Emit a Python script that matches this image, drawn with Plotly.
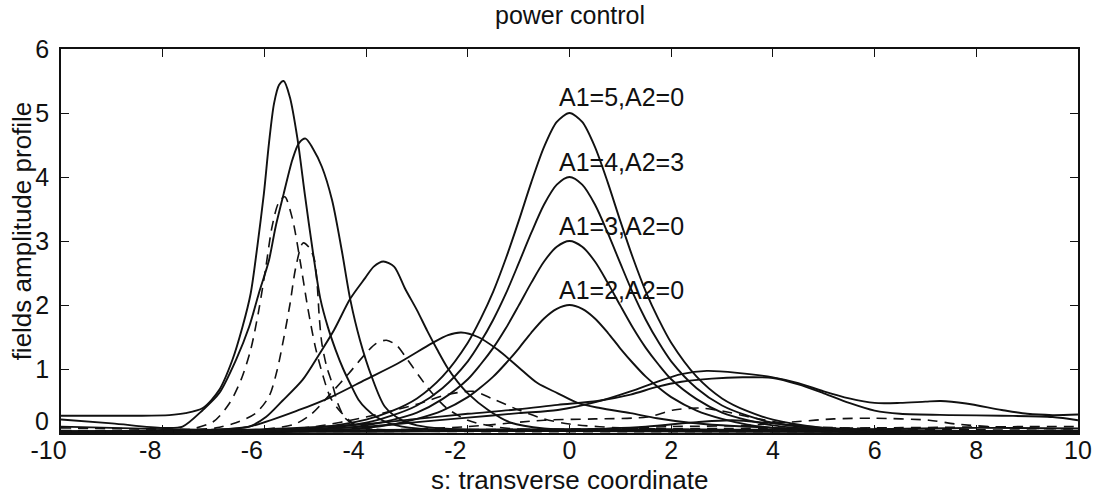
import plotly.graph_objects as go

# ---------------- data ----------------
x_ticks = [-10, -8, -6, -4, -2, 0, 2, 4, 6, 8, 10]
y_ticks = [0, 1, 2, 3, 4, 5, 6]

# solid peak near -5.6 (height 5.5)
s1_x = [-10, -8.5, -7.87, -7.55, -7.21, -6.89, -6.63, -6.43, -6.27, -6.14, -6.01, -5.91, -5.81, -5.71,
        -5.62, -5.5, -5.35, -5.2, -5.05, -4.9, -4.75, -4.6, -4.45, -4.3, -4.15, -4.0, -3.8, -3.5, -3.0,
        -2.0, 0, 3, 6, 10]
s1_y = [0.27, 0.27, 0.28, 0.31, 0.39, 0.67, 1.14, 1.66, 2.18, 2.91, 3.74, 4.53, 5.15, 5.44,
        5.5, 5.25, 4.6, 3.7, 2.85, 2.1, 1.65, 1.3, 1.0, 0.75, 0.52, 0.38, 0.25, 0.14, 0.07,
        0.04, 0.03, 0.03, 0.03, 0.03]

# solid peak near -5.2 (height 4.6)
s2_x = [-10, -9, -8, -7.61, -7.21, -6.89, -6.56, -6.30, -6.11, -5.91, -5.78, -5.62, -5.45, -5.32,
        -5.19, -5.05, -4.87, -4.67, -4.48, -4.31, -4.12, -3.89, -3.63, -3.3, -3.0, -2.5, -1.5, 0, 5, 10]
s2_y = [0.21, 0.15, 0.08, 0.1, 0.36, 0.62, 1.14, 1.66, 2.18, 2.70, 3.22, 3.74, 4.27, 4.53,
        4.6, 4.45, 4.16, 3.64, 2.86, 2.08, 1.45, 0.88, 0.41, 0.2, 0.12, 0.07, 0.04, 0.03, 0.02, 0.02]

# solid peak near -3.7 (height 2.7)
s3_x = [-10, -8, -7, -6.3, -5.97, -5.65, -5.25, -4.93, -4.63, -4.31, -4.02, -3.85, -3.66, -3.45,
        -3.23, -3.0, -2.8, -2.6, -2.4, -2.2, -2.0, -1.6, -1.15, -0.5, 0.5, 2, 5, 10]
s3_y = [0.02, 0.03, 0.05, 0.1, 0.25, 0.5, 0.83, 1.22, 1.61, 2.1, 2.42, 2.6, 2.68, 2.6,
        2.25, 1.92, 1.6, 1.3, 1.02, 0.8, 0.62, 0.36, 0.16, 0.07, 0.04, 0.03, 0.02, 0.02]

# solid peak near -2.1 (height 1.57)
s4_x = [-10, -8, -7, -6.3, -5.32, -4.67, -4.02, -3.37, -2.71, -2.39, -2.13, -1.8, -1.41, -1.02,
        -0.63, -0.23, 0.16, 0.6, 1.2, 1.72, 2.37, 3, 4, 5, 7, 10]
s4_y = [0.02, 0.03, 0.05, 0.1, 0.36, 0.57, 0.83, 1.09, 1.40, 1.53, 1.57, 1.5, 1.30, 1.04,
        0.78, 0.62, 0.47, 0.39, 0.31, 0.23, 0.16, 0.12, 0.08, 0.05, 0.03, 0.02]

# centred profiles (A1 = 5, 4, 3, 2)
c_x = [-10, -6, -5, -4, -3.5, -3, -2.5, -2, -1.75, -1.5, -1.25, -1, -0.75, -0.5, -0.25, 0,
       0.25, 0.5, 0.75, 1, 1.25, 1.5, 1.75, 2, 2.5, 3, 3.5, 4, 5, 6, 10]
c5_y = [0.01, 0.03, 0.08, 0.21, 0.34, 0.54, 0.88, 1.41, 1.78, 2.21, 2.73, 3.31, 3.92, 4.47, 4.86, 5.0,
        4.86, 4.47, 3.92, 3.31, 2.73, 2.21, 1.78, 1.41, 0.88, 0.54, 0.34, 0.21, 0.08, 0.03, 0.01]
c4_y = [0.01, 0.02, 0.06, 0.16, 0.27, 0.43, 0.70, 1.12, 1.42, 1.77, 2.18, 2.65, 3.13, 3.57, 3.88, 4.0,
        3.88, 3.57, 3.13, 2.65, 2.18, 1.77, 1.42, 1.12, 0.70, 0.43, 0.27, 0.16, 0.06, 0.02, 0.01]
c3_y = [0.01, 0.02, 0.05, 0.12, 0.20, 0.32, 0.53, 0.84, 1.07, 1.33, 1.64, 1.99, 2.35, 2.68, 2.91, 3.0,
        2.91, 2.68, 2.35, 1.99, 1.64, 1.33, 1.07, 0.84, 0.53, 0.32, 0.20, 0.12, 0.05, 0.02, 0.01]
c2_y = [0.01, 0.01, 0.03, 0.08, 0.13, 0.22, 0.35, 0.56, 0.71, 0.88, 1.09, 1.32, 1.57, 1.79, 1.94, 2.0,
        1.94, 1.79, 1.57, 1.32, 1.09, 0.88, 0.71, 0.56, 0.35, 0.22, 0.13, 0.08, 0.03, 0.01, 0.01]

# broad solid profiles on the right
u1_x = [-10, -6, -4, -3, -2, -1, -0.23, 0.55, 1.2, 1.72, 2.2, 2.7, 3.3, 4.0, 4.5, 5.0, 5.5, 6.0,
        6.5, 7.0, 7.3, 7.8, 8.5, 9.0, 9.5, 10]
u1_y = [0.02, 0.04, 0.1, 0.17, 0.24, 0.31, 0.36, 0.49, 0.65, 0.80, 0.92, 0.97, 0.94, 0.87, 0.78, 0.65,
        0.54, 0.47, 0.47, 0.49, 0.50, 0.46, 0.36, 0.30, 0.28, 0.29]
u2_x = [-10, -6, -4, -3, -2, -1, -0.23, 0.55, 1.2, 1.72, 2.2, 2.8, 3.4, 4.0, 4.5, 5.0, 5.5, 6.0,
        6.5, 7.5, 8.5, 9.5, 10]
u2_y = [0.03, 0.06, 0.14, 0.22, 0.3, 0.37, 0.44, 0.50, 0.60, 0.72, 0.80, 0.85, 0.87, 0.86, 0.76, 0.62,
        0.47, 0.35, 0.30, 0.28, 0.27, 0.25, 0.2]

# low solid profiles near the baseline
l1_x = [-10, -4, -2, 0, 1.5, 2.5, 3.2, 4, 5, 7, 10]
l1_y = [0.02, 0.02, 0.03, 0.05, 0.1, 0.17, 0.2, 0.15, 0.08, 0.04, 0.03]
l2_x = [-10, -8, -6, -3, 0, 3, 6, 8, 10]
l2_y = [0.1, 0.06, 0.04, 0.05, 0.06, 0.05, 0.06, 0.08, 0.07]

# dashed profiles
d1_x = [-10, -8, -7.5, -7.0, -6.69, -6.46, -6.27, -6.11, -5.97, -5.85, -5.72, -5.6, -5.45, -5.3,
        -5.15, -5.0, -4.85, -4.7, -4.5, -4.2, -3.8, -3, -1, 2, 6, 10]
d1_y = [0.03, 0.03, 0.05, 0.18, 0.46, 0.83, 1.30, 1.92, 2.6, 3.22, 3.6, 3.69, 3.35, 2.7,
        1.97, 1.35, 0.9, 0.55, 0.33, 0.12, 0.05, 0.03, 0.02, 0.02, 0.02, 0.02]
d2_x = [-10, -7.5, -6.95, -6.56, -6.17, -5.91, -5.75, -5.62, -5.5, -5.38, -5.24, -5.12, -5.02,
        -4.96, -4.92, -4.87, -4.78, -4.67, -4.55, -4.41, -4.2, -3.8, -3, 0, 10]
d2_y = [0.04, 0.05, 0.08, 0.16, 0.31, 0.57, 0.98, 1.48, 2.0, 2.6, 2.97, 2.9, 2.72,
        2.3, 1.8, 1.4, 1.05, 0.78, 0.45, 0.23, 0.12, 0.06, 0.04, 0.03, 0.03]
d3_x = [-10, -7, -6, -5.4, -5.07, -4.68, -4.34, -4.0, -3.8, -3.6, -3.4, -3.25, -3.1, -2.94, -2.7,
        -2.4, -2.0, -1.5, -1.0, 0, 3, 10]
d3_y = [0.02, 0.03, 0.06, 0.14, 0.3, 0.63, 0.93, 1.25, 1.4, 1.45, 1.37, 1.22, 1.05, 0.87, 0.62,
        0.38, 0.2, 0.1, 0.06, 0.04, 0.03, 0.02]
d4_x = [-10, -6, -5, -4, -3, -2.4, -1.9, -1.5, -1.0, -0.5, 0, 1, 3, 10]
d4_y = [0.02, 0.04, 0.1, 0.25, 0.45, 0.6, 0.65, 0.53, 0.36, 0.22, 0.14, 0.08, 0.05, 0.03]
d5_x = [-10, -4, -2, -0.5, 0.5, 1.53, 2.05, 2.56, 3.03, 3.54, 4.0, 4.5, 5, 6, 8, 10]
d5_y = [0.03, 0.04, 0.1, 0.2, 0.22, 0.25, 0.36, 0.39, 0.34, 0.25, 0.18, 0.12, 0.09, 0.07, 0.05, 0.04]
d6_x = [-10, -2, 0, 2, 3.5, 4.5, 5.2, 6.0, 7.07, 7.6, 8.5, 10]
d6_y = [0.02, 0.03, 0.05, 0.1, 0.12, 0.18, 0.22, 0.23, 0.2, 0.14, 0.09, 0.06]
d7_x = [-10, -8, -6, -3, 0, 3, 6, 9, 10]
d7_y = [0.08, 0.06, 0.04, 0.05, 0.06, 0.07, 0.08, 0.1, 0.1]

labels = ["A1=5,A2=0", "A1=4,A2=3", "A1=3,A2=0", "A1=2,A2=0"]
label_x = [1.02, 1.02, 1.02, 1.02]
label_y = [5.25, 4.24, 3.24, 2.23]

# ---------------- figure ----------------
FONT = "Liberation Sans, Arial, Helvetica, sans-serif"
INK = "#111111"

fig = go.Figure()

solid = [(s1_x, s1_y), (s2_x, s2_y), (s3_x, s3_y), (s4_x, s4_y),
         (c_x, c5_y), (c_x, c4_y), (c_x, c3_y), (c_x, c2_y),
         (u1_x, u1_y), (u2_x, u2_y), (l1_x, l1_y), (l2_x, l2_y)]
dashed = [(d1_x, d1_y), (d2_x, d2_y), (d3_x, d3_y), (d4_x, d4_y),
          (d5_x, d5_y), (d6_x, d6_y), (d7_x, d7_y)]

for xs, ys in solid:
    fig.add_trace(go.Scatter(x=xs, y=ys, mode="lines",
                             line=dict(color=INK, width=1.9, shape="spline", smoothing=0.8),
                             showlegend=False, hoverinfo="skip"))
for xs, ys in dashed:
    fig.add_trace(go.Scatter(x=xs, y=ys, mode="lines",
                             line=dict(color=INK, width=1.6, dash="10px,7px",
                                       shape="spline", smoothing=0.8),
                             showlegend=False, hoverinfo="skip"))

for t, lx, ly in zip(labels, label_x, label_y):
    fig.add_annotation(x=lx, y=ly, text=t, showarrow=False, xanchor="center", yanchor="middle",
                       font=dict(family=FONT, size=25, color=INK))

fig.add_annotation(xref="paper", yref="paper", x=0.5, y=1.089, text="power control",
                   showarrow=False, xanchor="center", yanchor="middle",
                   font=dict(family=FONT, size=25, color=INK))
fig.add_annotation(xref="paper", yref="paper", x=0.5, y=-0.1648, text="s: transverse coordinate",
                   showarrow=False, xanchor="center", yanchor="bottom", borderpad=0,
                   font=dict(family=FONT, size=26, color=INK))
fig.add_annotation(xref="paper", yref="paper", x=-0.038, y=0.526, text="fields amplitude profile",
                   showarrow=False, xanchor="center", yanchor="middle", textangle=-90,
                   font=dict(family=FONT, size=26, color=INK))
# y-axis "0" label, sitting slightly above the axis corner as in the reference
fig.add_annotation(xref="paper", yref="paper", x=-0.0108, y=0.0325, text="0",
                   showarrow=False, xanchor="right", yanchor="middle", borderpad=0,
                   font=dict(family=FONT, size=25, color=INK))

axis_common = dict(showline=True, linecolor=INK, linewidth=1.5, mirror="ticks",
                   ticks="inside", ticklen=8, tickwidth=1.2, tickcolor=INK,
                   showgrid=False, zeroline=False,
                   tickfont=dict(family=FONT, size=25, color=INK))

x_text = [(str(v) + "\u2003") if v < 0 else str(v) for v in x_ticks]
y_text = ["" if v == 0 else str(v) for v in y_ticks]

fig.update_layout(
    width=1104, height=497,
    margin=dict(l=61, r=21, t=49, b=64),
    paper_bgcolor="white", plot_bgcolor="white",
    xaxis=dict(range=[-10, 10], tickvals=x_ticks, ticktext=x_text, ticklabelstandoff=-6,
               **axis_common),
    yaxis=dict(range=[0, 6], tickvals=y_ticks, ticktext=y_text, ticklabelstandoff=5, **axis_common),
)

fig.write_html("out.html")
